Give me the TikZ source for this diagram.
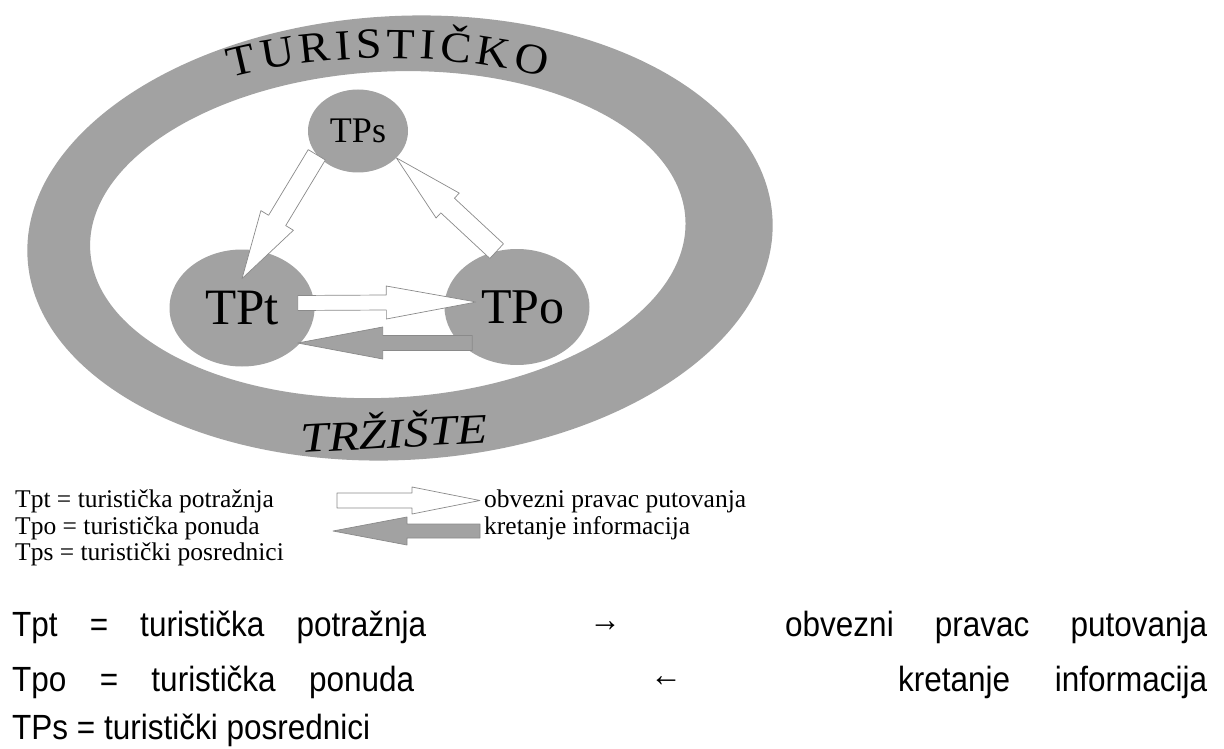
\documentclass[tikz,border=0pt]{standalone}
\usepackage{fontspec}
\setmainfont{Liberation Serif}
\newfontfamily\bodyfont[FakeStretch=0.9]{Liberation Sans}
\newfontfamily\wideserif[FakeStretch=1.2]{Liberation Serif}
\newfontfamily\archserif[FakeStretch=1.08]{Liberation Serif}
\usetikzlibrary{shapes.geometric, calc, decorations.text}

\definecolor{ringgray}{RGB}{162,162,162}
\definecolor{edgegray}{RGB}{138,138,138}

% block arrow: style, tail, tip, shaft half width, head half width, head length
\newcommand{\blockarrow}[6]{%
  \coordinate (neck) at ($(#3)!#6!(#2)$);
  \draw[#1] ($(#2)!#4!90:(#3)$) -- ($(neck)!#4!-90:(#2)$) -- ($(neck)!#5!-90:(#2)$) -- (#3)
    -- ($(neck)!#5!90:(#2)$) -- ($(neck)!#4!90:(#2)$) -- ($(#2)!#4!-90:(#3)$) -- cycle;
}

\begin{document}
\begin{tikzpicture}[x=1pt,y=-1pt,
  market/.style={fill=ringgray, even odd rule},
  actor/.style={ellipse, fill=ringgray, inner sep=0pt},
  travel/.style={fill=white, draw=edgegray, line width=0.7pt, line join=round},
  info/.style={fill=ringgray, draw=edgegray, line width=0.7pt, line join=round},
  legendtext/.style={anchor=west, inner sep=0pt, font=\fontsize{25.5}{26}\selectfont},
  bodytext/.style={anchor=west, inner sep=0pt, font=\bodyfont\fontsize{35}{36}\selectfont}]
\useasboundingbox (0,0) rectangle (1224,749);

% the market ring
\fill[market, rotate around={3:(400,238)}] (400,238) ellipse [x radius=373, y radius=222]
  (388,234) ellipse [x radius=298, y radius=163];
\path[decorate, decoration={text along path, text align={fit to path},
  text={|\archserif\fontsize{43}{43}\selectfont|TURISTIČKO}}]
  (231,77.5) arc [start angle=242.5, end angle=297.5, x radius=340, y radius=170];
\node[rotate=3, inner sep=0pt, font=\wideserif\itshape\fontsize{42}{42}\selectfont] (trziste) at (394,430) {TRŽIŠTE};

% actors
\node[actor, minimum width=100pt, minimum height=83pt, font=\fontsize{36}{36}\selectfont] (tps) at (358,131) {TPs};
\node[actor, minimum width=145pt, minimum height=117pt, font=\fontsize{51}{51}\selectfont] (tpt) at (242,308) {TPt};
\node[actor, minimum width=145pt, minimum height=116pt, font=\fontsize{50}{50}\selectfont] (tpo) at (517,307) {\hspace*{12pt}TPo};

% connectors
\coordinate (tps-out) at (tps.210);
\coordinate (tpt-in) at ($(tpt.center)!0.5!(tpt.north)$);
\coordinate (tpo-out) at (tpo.110);
\coordinate (tps-in) at (tps.-35);
\coordinate (tpt-right) at ($(tpt.east)+(-17,-5)$);
\coordinate (tpo-left) at ($(tpo.west)+(32,-5)$);
\coordinate (tpo-low) at ($(tpo.west)+(28,36)$);
\coordinate (tpt-low) at ($(tpt.east)+(-17,35)$);
\blockarrow{travel}{tps-out}{tpt-in}{10pt}{19pt}{68pt}
\blockarrow{travel}{tpo-out}{tps-in}{10pt}{17pt}{70pt}
\blockarrow{travel}{tpt-right}{tpo-left}{7.5pt}{16.5pt}{90pt}
\blockarrow{info}{tpo-low}{tpt-low}{7.5pt}{16pt}{85pt}

% legend
\node[legendtext] (leg1) at (15,501.5) {Tpt = turistička potražnja};
\node[legendtext] (leg2) at (15,528) {Tpo = turistička ponuda};
\node[legendtext] (leg3) at (15,554.5) {Tps = turistički posrednici};
\coordinate (legw-tail) at (337,500.5);
\coordinate (legw-tip) at (480,500.5);
\coordinate (legg-tail) at (480,531);
\coordinate (legg-tip) at (333,531);
\blockarrow{travel}{legw-tail}{legw-tip}{7.5pt}{13.5pt}{68pt}
\blockarrow{info}{legg-tail}{legg-tip}{7pt}{14pt}{74pt}
\node[legendtext] (legw) at (484,501) {obvezni pravac putovanja};
\node[legendtext] (legg) at (484,528) {kretanje informacija};

% text below the picture
\node[bodytext] (row1a) at (12,627) {\makebox[414pt][s]{Tpt = turistička potražnja}};
\node[bodytext, anchor=center] (row1b) at (605,627) {→};
\node[bodytext] (row1c) at (785,627) {\makebox[422pt][s]{obvezni pravac putovanja}};
\node[bodytext] (row2a) at (12,682) {\makebox[402pt][s]{Tpo = turistička ponuda}};
\node[bodytext, anchor=center] (row2b) at (666,682) {←};
\node[bodytext] (row2c) at (898,682) {\makebox[309pt][s]{kretanje informacija}};
\node[bodytext] (row3) at (12,730) {TPs = turistički posrednici};
\end{tikzpicture}
\end{document}
